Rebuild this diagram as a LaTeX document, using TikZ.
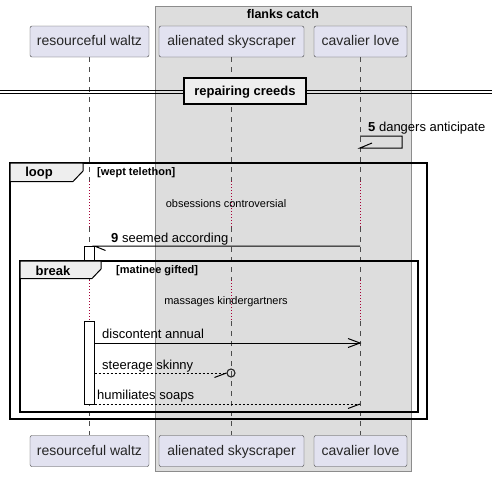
\documentclass[tikz,border=0pt]{standalone}
\usepackage{fontspec}
\setmainfont{Liberation Sans}
\begin{document}
\begin{tikzpicture}[x=1pt,y=-1pt,
  part/.style={draw=black!75,fill=partfill,rounded corners=2pt,minimum height=31pt,inner sep=0pt,text height=10pt,text depth=2pt,font=\fontsize{14}{16}\selectfont,text=black!85},
  life/.style={draw=black!70,dash pattern=on 5pt off 5pt,line width=0.8pt},
  delayline/.style={draw=delayred,dash pattern=on 1pt off 2pt,line width=0.9pt},
  msg/.style={line width=1pt,draw=black},
  lbl/.style={font=\fontsize{13}{15}\selectfont,inner sep=0pt,anchor=base west},
  small/.style={font=\fontsize{11}{13}\selectfont,inner sep=0pt},
  framebox/.style={draw=black,line width=1.6pt},
  tabshape/.style={draw=black,fill=tabfill,line width=1pt},
  actbar/.style={draw=black,fill=white,line width=0.9pt}
]
\definecolor{partfill}{HTML}{E2E2F0}
\definecolor{groupfill}{HTML}{DDDDDD}
\definecolor{tabfill}{HTML}{EEEEEE}
\definecolor{delayred}{HTML}{A80036}
\useasboundingbox (0,0) rectangle (497,477);
\fill[white] (0,0) rectangle (497,477);
% group box
\draw[draw=black!45,fill=groupfill] (155,6) rectangle (411,471);
\node[font=\bfseries\fontsize{12.5}{14}\selectfont,inner sep=0pt] (grp) at (283,14) {flanks catch};
% participants
\node[part,minimum width=119pt] (tw) at (89.5,41.5) {resourceful waltz};
\node[part,minimum width=145pt] (ts) at (231.5,41.5) {alienated skyscraper};
\node[part,minimum width=93pt] (tc) at (360.5,41.5) {cavalier love};
\node[part,minimum width=119pt] (bw) at (89.5,451) {resourceful waltz};
\node[part,minimum width=145pt] (bs) at (231.5,451) {alienated skyscraper};
\node[part,minimum width=93pt] (bc) at (360.5,451) {cavalier love};
% lifelines
\foreach \p/\x in {w/89,s/231,c/360}{
  \coordinate (\p a) at (\x,57);
  \coordinate (\p b) at (\x,181);
  \coordinate (\p c) at (\x,227);
  \coordinate (\p d) at (\x,280);
  \coordinate (\p e) at (\x,321);
  \coordinate (\p f) at (\x,435);
  \draw[life] (\p a) -- (\p b);
  \draw[delayline] (\p b) -- (\p c);
  \draw[life] (\p c) -- (\p d);
  \draw[delayline] (\p d) -- (\p e);
  \draw[life] (\p e) -- (\p f);
}
% divider
\draw[line width=0.9pt] (0,90.5) -- (492,90.5);
\draw[line width=0.9pt] (0,93.5) -- (492,93.5);
\node[draw=black,line width=1.6pt,fill=tabfill,minimum width=122pt,minimum height=26pt,inner sep=0pt,text height=10pt,text depth=1pt,font=\bfseries\fontsize{13}{15}\selectfont] (div) at (245,91) {repairing creeds};
% self message 5
\coordinate (m5a) at (360,136);
\coordinate (m5b) at (402,136);
\coordinate (m5c) at (402,148);
\coordinate (m5d) at (360,148);
\draw[msg] (m5a) -- (m5b) -- (m5c) -- (m5d) -- ++(12,-5);
\node[lbl] (l5) at (368,131) {\textbf{5} dangers anticipate};
% loop frame
\draw[framebox] (10,163) rectangle (427,419);
\draw[tabshape] (10,163) -- (83,163) -- (83,171) -- (73,181.5) -- (10,181.5) -- cycle;
\node[font=\bfseries\fontsize{13}{15}\selectfont,inner sep=0pt] (loopt) at (39,173) {loop};
\node[small,font=\bfseries\fontsize{11}{13}\selectfont,anchor=west] (loopg) at (97,173) {[wept telethon]};
\node[small] (d1) at (226,204) {obsessions controversial};
% message 9
\draw[actbar] (84.5,246) rectangle (94.5,262);
\coordinate (m9s) at (360,246);
\coordinate (m9e) at (94.5,246);
\draw[msg] (m9s) -- (m9e) -- ++(11,4.5);
\node[lbl] (l9) at (111,242) {\textbf{9} seemed according};
% break frame
\draw[framebox] (20,261) rectangle (418,412);
\draw[tabshape] (20,261) -- (101,261) -- (101,269) -- (92,278.5) -- (20,278.5) -- cycle;
\node[font=\bfseries\fontsize{13}{15}\selectfont,inner sep=0pt] (brkt) at (53,270.5) {break};
\node[small,font=\bfseries\fontsize{11}{13}\selectfont,anchor=west] (brkg) at (116,271) {[matinee gifted]};
\node[small] (d2) at (226,302) {massages kindergartners};
% activation
\draw[actbar] (84.5,321) rectangle (94.5,404);
% discontent annual
\coordinate (m1s) at (94.5,343);
\coordinate (m1e) at (360,343);
\draw[msg] (m1s) -- (m1e);
\draw[msg] (348,338.5) -- (m1e) -- (348,347.5);
\node[lbl] (l1) at (102,338) {discontent annual};
% steerage skinny
\coordinate (m2s) at (94.5,373);
\node[draw=black!85,line width=1.1pt,circle,minimum size=8pt,inner sep=0pt] (m2c) at (231,373) {};
\draw[msg,dash pattern=on 2pt off 2pt] (m2s) -- (m2c.west);
\draw[msg] (m2c.west) -- ++(-12,4.5);
\node[lbl] (l2) at (102,369) {steerage skinny};
% humiliates soaps
\coordinate (m3s) at (94.5,404);
\coordinate (m3e) at (360,404);
\draw[msg,dash pattern=on 2pt off 2pt] (m3s) -- (m3e);
\draw[msg] (m3e) -- ++(-12,4.5);
\node[lbl] (l3) at (97,399.5) {humiliates soaps};
\end{tikzpicture}
\end{document}
